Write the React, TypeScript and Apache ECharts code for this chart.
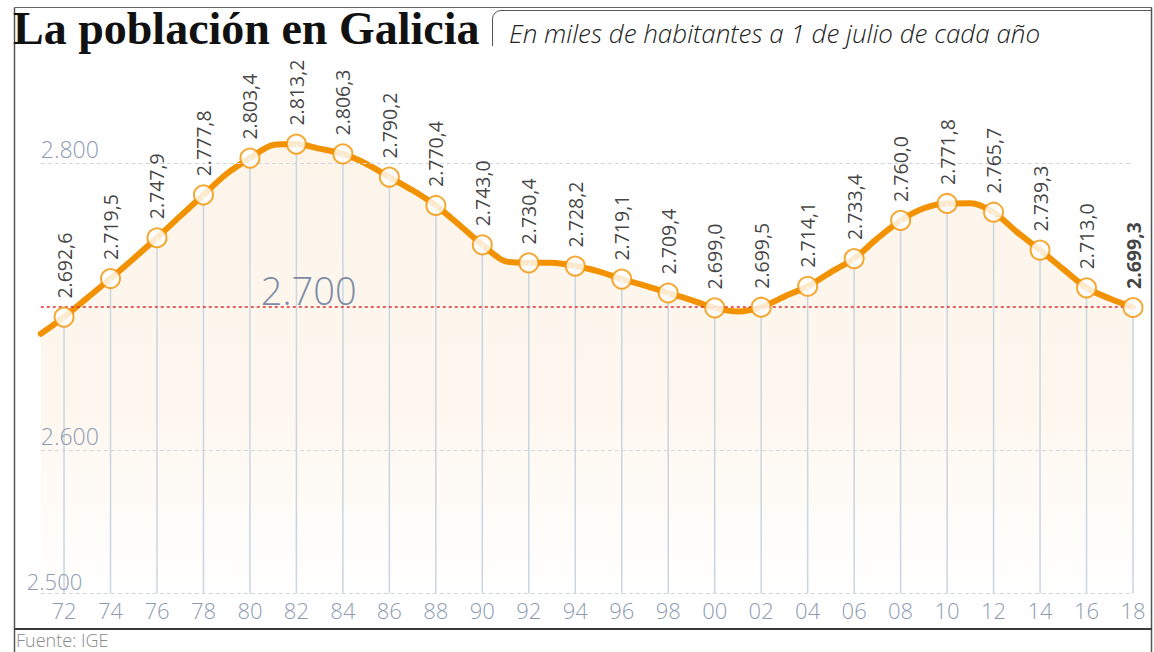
import React, { useEffect, useRef } from "react";
import * as echarts from "echarts";

const years = [
  "1971", "1972", "1973", "1974", "1975", "1976", "1977", "1978", "1979", "1980",
  "1981", "1982", "1983", "1984", "1985", "1986", "1987", "1988", "1989", "1990",
  "1991", "1992", "1993", "1994", "1995", "1996", "1997", "1998", "1999", "2000",
  "2001", "2002", "2003", "2004", "2005", "2006", "2007", "2008", "2009", "2010",
  "2011", "2012", "2013", "2014", "2015", "2016", "2017", "2018",
];

const population = [
  2681.0, 2692.6, 2706.0, 2719.5, 2733.5, 2747.9, 2763.0, 2777.8, 2792.5, 2803.4,
  2812.5, 2813.2, 2810.0, 2806.3, 2799.5, 2790.2, 2781.0, 2770.4, 2757.0, 2743.0,
  2731.5, 2730.4, 2730.5, 2728.2, 2724.5, 2719.1, 2714.5, 2709.4, 2704.5, 2699.0,
  2696.5, 2699.5, 2707.0, 2714.1, 2724.0, 2733.4, 2747.5, 2760.0, 2768.5, 2771.8,
  2772.0, 2765.7, 2752.0, 2739.3, 2726.0, 2713.0, 2705.5, 2699.3,
];

const gridTicks = [2800, 2600, 2500];
const refValue = 2700;
const yMin = 2500;
const yMax = 2900;

const titleText = "La población en Galicia";
const subtitleText = "En miles de habitantes a 1 de julio de cada año";
const sourceText = "Fuente: IGE";

const ORANGE = "#f39200";
const AXIS_GRAY = "#8d9bb2";
const FONT = "'Open Sans', Lato, sans-serif";

const thousands = (s: string) => s.replace(/\B(?=(\d{3})+(?!\d))/g, ".");
const fmtValue = (v: number) => {
  const [i, d] = v.toFixed(1).split(".");
  return thousands(i) + "," + d;
};
const fmtTick = (v: number) => thousands(String(v));

const isMarked = (y: string) => Number(y) % 2 === 0;

export default function App() {
  const ref = useRef<HTMLDivElement>(null);

  useEffect(() => {
    if (!ref.current) return;
    const chart = echarts.init(ref.current, undefined, { renderer: "svg" });

    const lastIdx = years.length - 1;
    const markerData = population.map((v, i) => {
      if (!isMarked(years[i])) return "-";
      if (i === lastIdx) {
        return { value: v, label: { fontWeight: "bold" } };
      }
      return v;
    });
    const dropData = population.map((v, i) => (isMarked(years[i]) ? v : "-"));

    const tickLabelCfg: Record<number, { dist: number; dx: number; size: number }> = {
      2800: { dist: 3, dx: -3, size: 23 },
      2600: { dist: 3, dx: -3, size: 23 },
      2500: { dist: 2, dx: -16, size: 22 },
    };

    const option: any = {
      animation: false,
      grid: { left: 40.8, right: 21, top: 19.5, bottom: 58.5 },
      xAxis: {
        type: "category",
        data: years,
        boundaryGap: false,
        axisLine: { show: false },
        axisTick: { show: false },
        axisLabel: {
          interval: (idx: number, val: string) => isMarked(val),
          formatter: (val: string) => val.slice(2),
          color: AXIS_GRAY,
          fontSize: 22,
          fontFamily: FONT,
          fontWeight: 300,
          margin: 5,
        },
        splitLine: { show: false },
      },
      yAxis: {
        type: "value",
        min: yMin,
        max: yMax,
        show: false,
      },
      series: [
        {
          type: "line",
          data: population,
          smooth: 0.3,
          symbol: "none",
          z: 2,
          lineStyle: { color: ORANGE, width: 6, cap: "round", join: "round" },
          areaStyle: {
            color: {
              type: "linear",
              x: 0, y: 0, x2: 0, y2: 1,
              colorStops: [
                { offset: 0, color: "#fcf0e1" },
                { offset: 0.6, color: "#fdf4e9" },
                { offset: 1, color: "#ffffff" },
              ],
            },
          },
          markLine: {
            silent: true,
            symbol: ["none", "none"],
            animation: false,
            data: [
              ...gridTicks.map((v) => ({
                yAxis: v,
                lineStyle: { color: "#cfd6de", type: [4, 3], width: 1 },
                label: {
                  show: true,
                  position: "insideStartTop",
                  formatter: fmtTick(v),
                  color: AXIS_GRAY,
                  fontSize: tickLabelCfg[v].size,
                  fontFamily: FONT,
                  fontWeight: 300,
                  distance: tickLabelCfg[v].dist,
                  offset: [tickLabelCfg[v].dx, 0],
                },
              })),
              {
                yAxis: refValue,
                lineStyle: { color: "#e0302f", type: [3, 3], width: 1.5 },
                label: {
                  show: true,
                  position: "insideStartTop",
                  formatter: fmtTick(refValue),
                  color: "#7d8ca6",
                  fontSize: 38,
                  fontFamily: FONT,
                  fontWeight: 300,
                  distance: -2,
                  offset: [222, 0],
                },
              },
            ],
          },
        },
        {
          type: "bar",
          data: dropData,
          barWidth: 1.5,
          silent: true,
          z: 3,
          itemStyle: { color: "#c9d5e1" },
        },
        {
          type: "scatter",
          data: markerData,
          symbol: "circle",
          symbolSize: 19,
          z: 5,
          silent: true,
          itemStyle: { color: "#ffffff", borderColor: ORANGE, borderWidth: 2 },
          label: {
            show: true,
            position: "top",
            rotate: 90,
            align: "left",
            verticalAlign: "middle",
            distance: 8,
            color: "#111111",
            fontSize: 19.5,
            fontFamily: FONT,
            formatter: (p: any) => fmtValue(Number(p.value)),
          },
        },
      ],
      graphic: [
        { type: "line", silent: true, shape: { x1: 14.5, y1: 7.5, x2: 1152, y2: 7.5 }, style: { stroke: "#666", lineWidth: 1.2 } },
        { type: "line", silent: true, shape: { x1: 14.5, y1: 7.5, x2: 14.5, y2: 652 }, style: { stroke: "#555", lineWidth: 1.5 } },
        { type: "line", silent: true, shape: { x1: 1151.5, y1: 7.5, x2: 1151.5, y2: 652 }, style: { stroke: "#555", lineWidth: 1.5 } },
        { type: "line", silent: true, shape: { x1: 14.5, y1: 629, x2: 1152, y2: 629 }, style: { stroke: "#3a3a3a", lineWidth: 2 } },
        { type: "line", silent: true, shape: { x1: 492.5, y1: 46, x2: 492.5, y2: 19 }, style: { stroke: "#555", lineWidth: 1 } },
        { type: "arc", silent: true, shape: { cx: 501, cy: 19, r: 8.5, startAngle: Math.PI, endAngle: Math.PI * 1.5, clockwise: true }, style: { stroke: "#555", lineWidth: 1, fill: null } },
        { type: "line", silent: true, shape: { x1: 501, y1: 10.5, x2: 1152, y2: 10.5 }, style: { stroke: "#555", lineWidth: 1 } },
        {
          type: "text",
          silent: true,
          x: 13,
          y: 28,
          style: {
            text: titleText,
            font: "bold 46px 'Liberation Serif', 'DejaVu Serif', serif",
            fill: "#111",
            verticalAlign: "middle",
          },
        },
        {
          type: "text",
          silent: true,
          x: 509,
          y: 33,
          style: {
            text: subtitleText,
            font: "italic 300 26px 'Open Sans', sans-serif",
            fill: "#222",
            verticalAlign: "middle",
          },
        },
        {
          type: "text",
          silent: true,
          x: 16,
          y: 640,
          style: {
            text: sourceText,
            font: "300 18px 'Open Sans', sans-serif",
            fill: "#8a8a8a",
            verticalAlign: "middle",
          },
        },
      ],
    };

    chart.setOption(option);
    return () => chart.dispose();
  }, []);

  return (
    <div
      ref={ref}
      style={{ position: "fixed", left: 0, top: 0, width: 1154, height: 652, background: "#fff" }}
    />
  );
}
